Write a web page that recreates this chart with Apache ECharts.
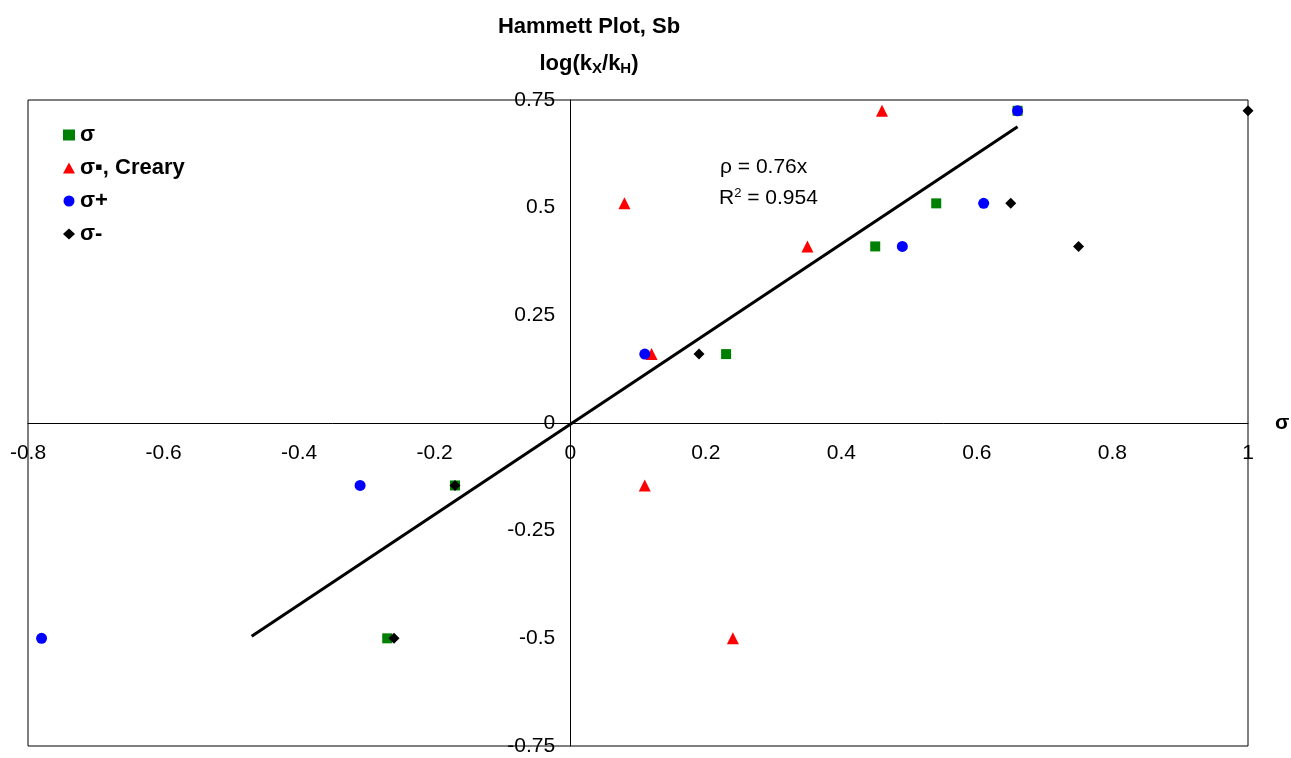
<!DOCTYPE html>
<html><head><meta charset="utf-8">
<script src="https://cdn.jsdelivr.net/npm/echarts@6/dist/echarts.min.js"></script>
<style>html,body{margin:0;padding:0;background:#fff}#c{width:1291px;height:758px}</style>
</head><body><div id="c"></div>
<script>
const sigma = [[-0.27,-0.50],[-0.17,-0.145],[0.23,0.16],[0.45,0.41],[0.54,0.51],[0.66,0.725]];
const sigmaCreary = [[0.08,0.51],[0.12,0.16],[0.11,-0.145],[0.24,-0.50],[0.35,0.41],[0.46,0.725]];
const sigmaPlus = [[-0.78,-0.50],[-0.31,-0.145],[0.11,0.16],[0.49,0.41],[0.61,0.51],[0.66,0.725]];
const sigmaMinus = [[-0.26,-0.50],[-0.17,-0.145],[0.19,0.16],[0.65,0.51],[0.75,0.41],[1.0,0.725]];
const trend = [[-0.47,-0.495],[0.66,0.688]];
const seriesNames = ['σ','σ▪, Creary','σ+','σ-'];
const xTicks = {min:-0.8,max:1,interval:0.2};
const yTicks = {min:-0.75,max:0.75,interval:0.25};

const font = 'Liberation Sans, Arial, sans-serif';
const W = 1291, H = 758;
const gridBox = {left:28,right:43,top:100,bottom:12};
const gw = W - gridBox.left - gridBox.right, gh = H - gridBox.top - gridBox.bottom;
// move axes to cross at zero via offsets computed from the axis extents
const xOff = -gh * (0 - yTicks.min) / (yTicks.max - yTicks.min);
const yOff = -gw * (0 - xTicks.min) / (xTicks.max - xTicks.min);

const chart = echarts.init(document.getElementById('c'));
chart.setOption({
  animation:false,
  backgroundColor:'#fff',
  title:[
    {text:'Hammett Plot, Sb',left:584,top:11,textAlign:'center',
     textStyle:{fontFamily:font,fontSize:22,fontWeight:'bold',color:'#000'}},
    {text:'log(k{s|X}/k{s|H})',left:584,top:46,textAlign:'center',
     textStyle:{fontFamily:font,fontSize:22,fontWeight:'bold',color:'#000',
       rich:{s:{fontFamily:font,fontSize:15,fontWeight:'bold',color:'#000',verticalAlign:'bottom',padding:[10,0,0,0]}}}}
  ],
  legend:{
    orient:'vertical',left:58,top:119,itemWidth:12,itemHeight:11,itemGap:11,
    data:seriesNames,
    textStyle:{fontFamily:font,fontSize:22,fontWeight:'bold',color:'#000',lineHeight:22}
  },
  grid:{left:gridBox.left,right:gridBox.right,top:gridBox.top,bottom:gridBox.bottom,
    containLabel:false,outerBoundsMode:'none',show:true,borderColor:'#000',borderWidth:1},
  xAxis:{type:'value',min:xTicks.min,max:xTicks.max,interval:xTicks.interval,
    position:'bottom',offset:xOff,
    name:'σ',nameLocation:'end',nameGap:27,
    nameTextStyle:{fontFamily:font,fontSize:21,fontWeight:'bold',color:'#000',verticalAlign:'middle',padding:[0,0,0,0]},
    axisLine:{onZero:false,lineStyle:{color:'#000',width:1}},
    axisTick:{show:false},
    axisLabel:{fontFamily:font,fontSize:21,color:'#000',margin:20,
      formatter:v=>String(Math.round(v*10)/10)},
    splitLine:{show:false}},
  yAxis:{type:'value',min:yTicks.min,max:yTicks.max,interval:yTicks.interval,
    position:'left',offset:yOff,
    axisLine:{onZero:false,lineStyle:{color:'#000',width:1}},
    axisTick:{show:false},
    axisLabel:{fontFamily:font,fontSize:21,color:'#000',margin:15,
      formatter:v=>String(Math.round(v*100)/100)},
    splitLine:{show:false}},
  graphic:[
    {type:'text',left:720,top:157,style:{text:'ρ = 0.76x',font:'21px '+font,fill:'#000'}},
    {type:'text',left:719,top:187,style:{text:'R{sup|2} = 0.954',font:'21px '+font,fill:'#000',
      rich:{sup:{fontSize:13,fontFamily:font,verticalAlign:'top',padding:[0,0,10,0]}}}}
  ],
  series:[
    {name:seriesNames[0],type:'scatter',data:sigma,symbol:'rect',symbolSize:10,itemStyle:{color:'#008000',opacity:1},z:2},
    {name:seriesNames[1],type:'scatter',data:sigmaCreary,symbol:'triangle',symbolSize:12,itemStyle:{color:'#ff0000',opacity:1},z:3},
    {name:seriesNames[2],type:'scatter',data:sigmaPlus,symbol:'circle',symbolSize:11,itemStyle:{color:'#0000ff',opacity:1},z:4},
    {name:seriesNames[3],type:'scatter',data:sigmaMinus,symbol:'diamond',symbolSize:11,itemStyle:{color:'#000',opacity:1},z:5},
    {name:'trend',type:'line',data:trend,symbol:'none',lineStyle:{color:'#000',width:3},z:6,silent:true}
  ]
});
</script></body></html>
